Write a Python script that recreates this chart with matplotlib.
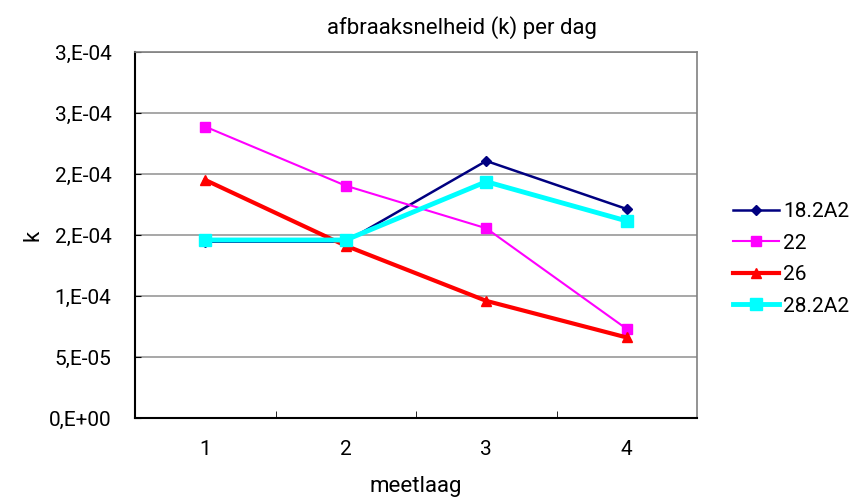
import matplotlib.pyplot as plt
from matplotlib.lines import Line2D

plt.rcParams['font.family'] = ['Roboto', 'DejaVu Sans']

meetlaag = [1, 2, 3, 4]
k_182a2 = [1.445e-4, 1.445e-4, 2.107e-4, 1.713e-4]
k_22 = [2.388e-4, 1.904e-4, 1.555e-4, 7.3e-5]
k_26 = [1.951e-4, 1.412e-4, 9.6e-5, 6.6e-5]
k_282a2 = [1.459e-4, 1.459e-4, 1.937e-4, 1.615e-4]

y_ticks = [0, 5e-5, 1e-4, 1.5e-4, 2e-4, 2.5e-4, 3e-4]
y_tick_labels = ['0,E+00', '5,E-05', '1,E-04', '2,E-04', '2,E-04', '3,E-04', '3,E-04']

series = [
    ('18.2A2', k_182a2, '#000080', 'D', 1.8, 5.5),
    ('22', k_22, '#ff00ff', 's', 1.5, 7),
    ('26', k_26, '#ff0000', '^', 3.0, 7),
    ('28.2A2', k_282a2, '#00ffff', 's', 3.5, 8),
]

fig = plt.figure(figsize=(8.55, 4.97), dpi=100)
ax = fig.add_axes([135 / 855, 1 - 418 / 497, 562 / 855, 366 / 497])

handles = []
for name, vals, col, mk, lw, ms in series:
    ax.plot(meetlaag, vals, color=col, lw=lw, marker=mk, markersize=ms,
            markerfacecolor=col, markeredgecolor=col, zorder=3)
    handles.append(Line2D([], [], color=col, lw=lw, marker=mk, markersize=ms,
                          markerfacecolor=col, markeredgecolor=col))

ax.set_xlim(0.5, 4.5)
ax.set_ylim(0, 3e-4)
ax.set_yticks(y_ticks)
ax.set_yticklabels(y_tick_labels, fontsize=15)
ax.set_xticks(meetlaag)
ax.set_xticklabels([str(m) for m in meetlaag], fontsize=15)
ax.set_xticks([1.5, 2.5, 3.5], minor=True)
ax.tick_params(axis='x', which='major', length=0, pad=16)
ax.tick_params(axis='x', which='minor', direction='in', length=5)
ax.tick_params(axis='y', direction='in', length=4, pad=17)

ax.grid(axis='y', color='#a0a0a0', lw=1.3, zorder=0)
ax.set_axisbelow(True)
for side in ['top', 'right']:
    ax.spines[side].set_color('#808080')
    ax.spines[side].set_linewidth(1.2)
for side in ['left', 'bottom']:
    ax.spines[side].set_color('black')
    ax.spines[side].set_linewidth(1.5)

ax.set_xlabel('meetlaag', fontsize=16, labelpad=12)
ax.set_ylabel('k', fontsize=16, labelpad=4)
fig.text(462 / 855, 1 - 28 / 497, 'afbraaksnelheid (k) per dag', fontsize=16,
         ha='center', va='center')

fig.legend(handles, [s[0] for s in series], loc='center left',
           bbox_to_anchor=(733 / 855, 1 - 259 / 497), frameon=False,
           fontsize=15, handlelength=2.2, handletextpad=0.2, labelspacing=0.6,
           borderpad=0, borderaxespad=0)

fig.savefig('out.png', dpi=100)
